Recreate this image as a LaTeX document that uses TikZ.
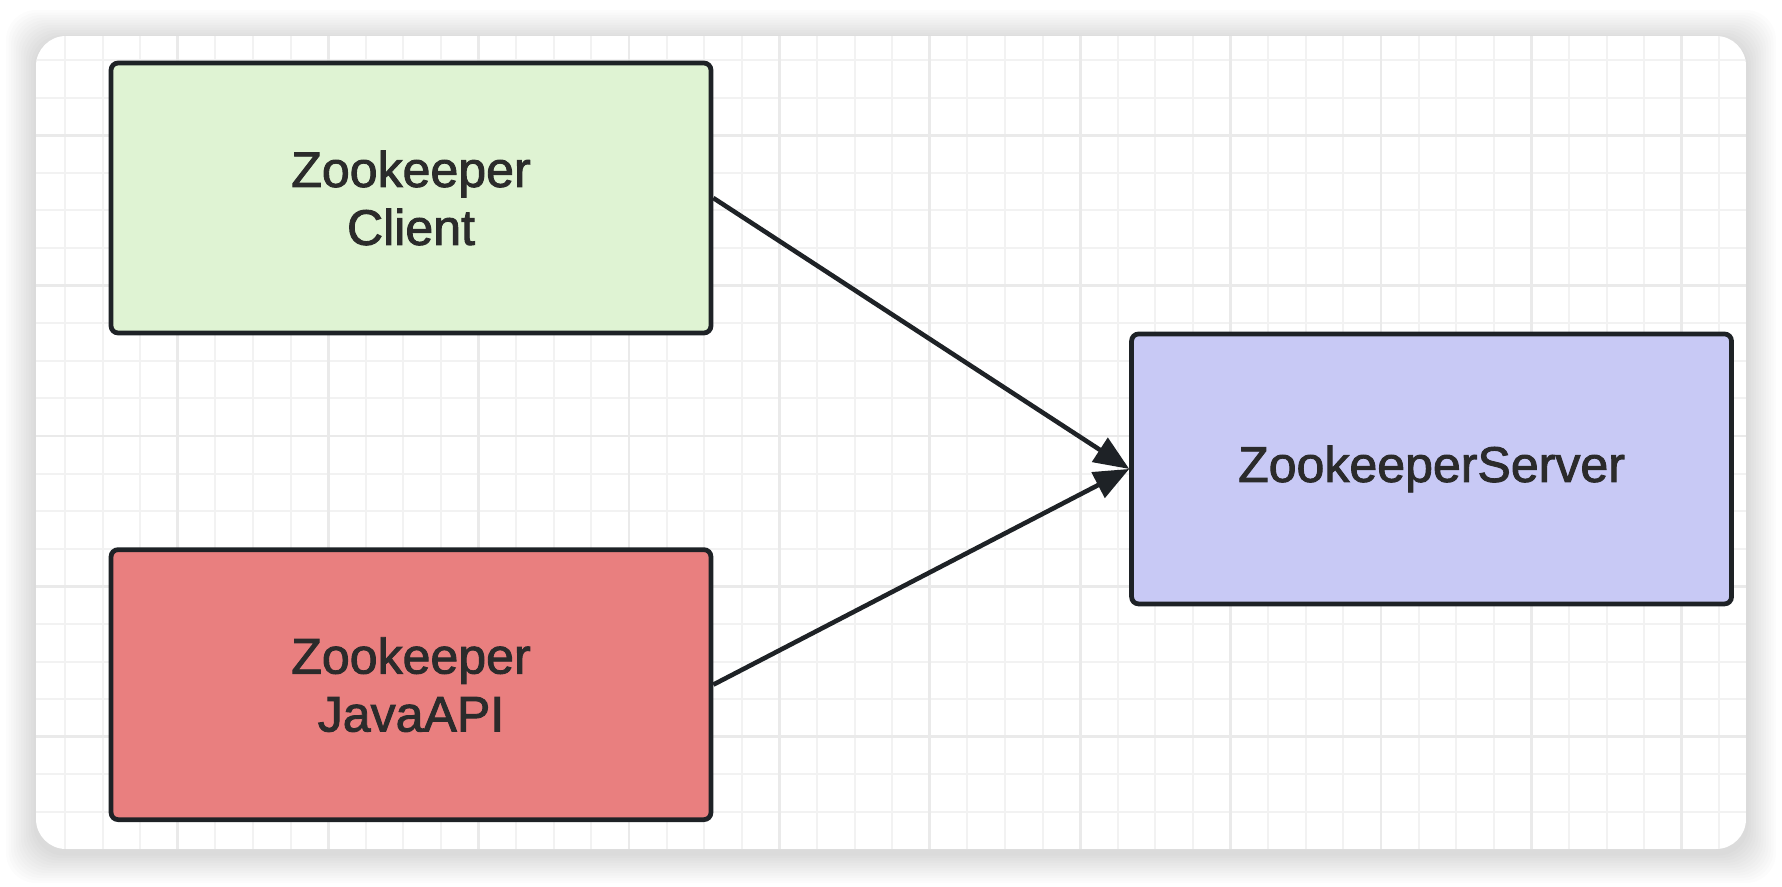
\documentclass[tikz,border=0pt]{standalone}
\usepackage{fontspec}
\setmainfont{Liberation Sans}
\newfontfamily\boxfont{Liberation Sans}[FakeBold=1.8]
\usepackage{xcolor}
\usepackage{tikz}
\usetikzlibrary{arrows.meta, positioning}
\definecolor{clientgreen}{HTML}{DFF3D3}
\definecolor{apired}{HTML}{E97F7F}
\definecolor{serverblue}{HTML}{C8C9F5}
\definecolor{edgedark}{HTML}{1E2226}
\definecolor{textdark}{HTML}{2B2B2B}
\definecolor{gridlight}{HTML}{F2F2F2}
\definecolor{gridmajor}{HTML}{EAEAEA}

\begin{document}
\begin{tikzpicture}[
  x=0.02cm, y=-0.02cm,
  box/.style={draw=edgedark, line width=2.7pt, rounded corners=0.14cm, align=center, minimum width=12cm, minimum height=5.4cm, text=textdark, font=\boxfont\fontsize{28.5}{33}\selectfont},
  arrow/.style={draw=edgedark, line width=2.6pt, -{Triangle[length=20pt, width=16pt]}},
  minorline/.style={gridlight, line width=1.2pt},
  majorline/.style={gridmajor, line width=1.6pt},
  node distance=4.24cm and 8.32cm
]
\useasboundingbox[fill=white] (0,0) rectangle (1782,886);
\foreach \s in {1,...,12}
  \fill[black, opacity=0.01, rounded corners=0.6cm] (36-2.5*\s,40-2.5*\s) rectangle (1746+2.5*\s,853+2.5*\s);
\begin{scope}
  \clip[rounded corners=0.6cm] (36,36) rectangle (1746,849);
  \fill[white] (36,36) rectangle (1746,849);
  \foreach \i in {0,...,45} \draw[minorline] (65+37.6*\i,36) -- (65+37.6*\i,849);
  \foreach \j in {0,...,21} \draw[minorline] (36,60+37.6*\j) -- (1746,60+37.6*\j);
  \foreach \i in {0,...,10} \draw[majorline] (177.8+150.4*\i,36) -- (177.8+150.4*\i,849);
  \foreach \j in {0,...,4} \draw[majorline] (36,135.2+150.4*\j) -- (1746,135.2+150.4*\j);
\end{scope}

\node[box, fill=clientgreen] (client) at (411,198) {Zookeeper\\Client};
\node[box, fill=apired, below=of client] (javaapi) {Zookeeper\\JavaAPI};
\node[box, fill=serverblue, right=of client, yshift=-5.42cm] (server) {ZookeeperServer};

\draw[arrow] (client.east) -- (server.west);
\draw[arrow] (javaapi.east) -- (server.west);
\end{tikzpicture}
\end{document}
